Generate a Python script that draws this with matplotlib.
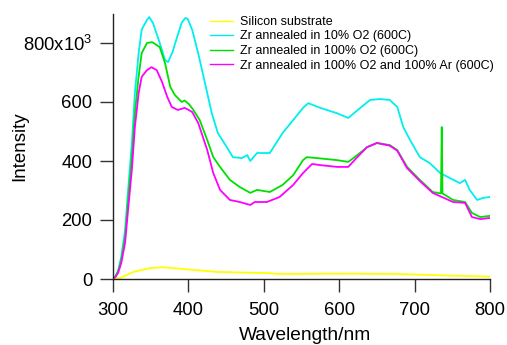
import matplotlib
matplotlib.use('Agg')
import matplotlib.pyplot as plt

plt.rcParams['font.family'] = ['Liberation Sans', 'DejaVu Sans']
plt.rcParams['mathtext.fontset'] = 'custom'
plt.rcParams['mathtext.rm'] = 'Liberation Sans'
plt.rcParams['mathtext.it'] = 'Liberation Sans'

# ---- data ----
yellow_x = [300, 310, 327, 349, 366, 393, 438, 504, 521, 600, 677, 740, 800]
yellow_y = [0, 4, 24, 37, 40, 34, 24, 20, 17, 18, 17, 12, 8]

cyan_x = [300, 303, 307, 311, 316, 320, 325, 329, 334, 338, 345, 348, 353, 362, 369, 373,
          379, 385, 391, 396, 399, 405, 413, 422, 431, 439, 451, 459, 471, 478, 482, 491,
          508, 525, 539, 552, 559, 575, 597, 612, 628, 641, 654, 667, 677, 685, 694, 707,
          720, 734, 747, 760, 767, 773, 783, 791, 800]
cyan_y = [3, 8, 30, 76, 166, 300, 460, 630, 765, 845, 878, 888, 868, 800, 742, 735,
          770, 820, 868, 885, 882, 845, 765, 664, 562, 495, 447, 413, 410, 420, 400, 427,
          427, 495, 539, 580, 596, 580, 562, 546, 580, 607, 610, 607, 583, 515, 471, 413,
          393, 359, 342, 325, 336, 302, 268, 275, 278]

green_x = [300, 303, 307, 311, 316, 320, 325, 329, 334, 338, 345, 352, 362, 369, 376, 382,
           391, 395, 401, 406, 415, 425, 433, 442, 455, 468, 482, 491, 508, 525, 539, 552,
           557, 570, 597, 612, 624, 637, 650, 667, 677, 690, 707, 724, 735, 736, 737, 751,
           767, 776, 787, 800]
green_y = [3, 7, 27, 65, 143, 268, 414, 562, 686, 765, 800, 803, 786, 732, 651, 624,
           600, 605, 592, 575, 539, 471, 413, 380, 336, 312, 292, 302, 295, 319, 352, 403,
           413, 410, 403, 397, 420, 447, 461, 454, 437, 380, 336, 295, 290, 515, 290, 268,
           261, 224, 210, 214]

magenta_x = [300, 303, 307, 311, 316, 320, 325, 329, 334, 338, 345, 351, 358, 365, 372, 378,
             386, 395, 399, 405, 413, 425, 433, 442, 455, 468, 482, 488, 504, 521, 539, 552,
             564, 575, 597, 612, 624, 637, 650, 667, 677, 690, 707, 724, 751, 767, 776, 787,
             800]
magenta_y = [2, 6, 22, 55, 122, 234, 370, 515, 630, 685, 708, 718, 708, 668, 617, 583,
             573, 580, 575, 566, 529, 437, 359, 302, 268, 261, 251, 261, 261, 278, 319, 359,
             390, 386, 380, 380, 413, 447, 461, 452, 435, 376, 332, 292, 261, 258, 210, 203,
             207]

labels = ["Silicon substrate",
          "Zr annealed in 10% O2 (600C)",
          "Zr annealed in 100% O2 (600C)",
          "Zr annealed in 100% O2 and 100% Ar (600C)"]
xticks = [300, 400, 500, 600, 700, 800]
yticks = [0, 200, 400, 600, 800]
yticklabels = ["0", "200", "400", "600", "800x10$^{3}$"]

# ---- figure ----
W, H = 507, 345
fig = plt.figure(figsize=(W / 100, H / 100), dpi=100)
ax = fig.add_axes([113 / W, 1 - 279 / H, (490 - 113) / W, (279 - 13.5) / H])

ax.plot(yellow_x, yellow_y, color='#ffff00', lw=1.3, label=labels[0])
ax.plot(cyan_x, cyan_y, color='#00eeee', lw=1.3, label=labels[1])
ax.plot(green_x, green_y, color='#00e000', lw=1.3, label=labels[2])
ax.plot(magenta_x, magenta_y, color='#ff00ff', lw=1.3, label=labels[3])

ax.set_xlim(300, 800)
ax.set_ylim(0, 900)
for s in ['top', 'right']:
    ax.spines[s].set_visible(False)
for s in ['left', 'bottom']:
    ax.spines[s].set_color('#222222')
    ax.spines[s].set_linewidth(1)

ax.set_xticks(xticks)
ax.set_yticks(yticks)
ax.set_yticklabels(yticklabels)
ax.tick_params(direction='out', length=9.5, width=1, color='#333333',
               labelsize=13.3)
ax.tick_params(axis='y', pad=5.5)
ax.tick_params(axis='x', pad=7.2)

fig.text(20 / W, 1 - 146 / H, 'Intensity', rotation=90, ha='center', va='center',
         fontsize=13.5)
fig.text(305 / W, 1 - 340 / H, 'Wavelength/nm', ha='center', va='baseline',
         fontsize=13.8)

leg = ax.legend(loc='upper left', bbox_to_anchor=(210 / W, 1 - 16 / H),
                bbox_transform=fig.transFigure, frameon=False, fontsize=9.0,
                handlelength=1.85, handletextpad=0.55, labelspacing=0.2,
                borderpad=0, borderaxespad=0)
for l in leg.get_lines():
    l.set_linewidth(1.0)

fig.savefig('out.png', dpi=100)
